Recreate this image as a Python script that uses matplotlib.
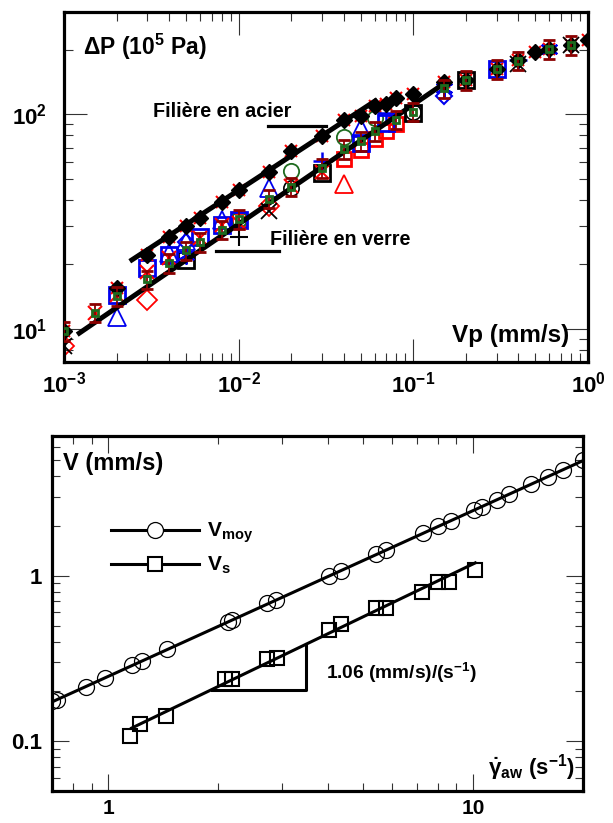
import numpy as np
import matplotlib
matplotlib.use('Agg')
import matplotlib.pyplot as plt
from matplotlib.lines import Line2D
from matplotlib.ticker import NullFormatter

plt.rcParams.update({
    'font.family': 'Liberation Sans',
    'font.weight': 'bold',
    'mathtext.fontset': 'custom',
    'mathtext.rm': 'Liberation Sans:bold',
    'mathtext.it': 'Liberation Sans:bold',
    'mathtext.bf': 'Liberation Sans:bold',
    'mathtext.sf': 'Liberation Sans:bold',
})

# ---------------- pressure drop vs piston speed ----------------
# steel die
steel_vp = [0.001, 0.002, 0.003, 0.004, 0.005, 0.006, 0.008, 0.01, 0.015, 0.02, 0.03,
            0.04, 0.05, 0.06, 0.07, 0.08, 0.1, 0.15, 0.2, 0.3, 0.4, 0.5, 0.6, 0.8, 1.0]
steel_dp = [9.8, 15.5, 22, 26.7, 30, 33, 39, 44.5, 54, 67.5, 79,
            94, 98, 109, 112, 119, 124, 142, 145, 163, 180, 196, 202, 211, 222]

# averaged runs with error bars
mean_vp = [0.001, 0.0015, 0.002, 0.003, 0.004, 0.005, 0.006, 0.008, 0.01, 0.015, 0.02, 0.03,
           0.04, 0.05, 0.06, 0.08, 0.1, 0.15, 0.2, 0.3, 0.4, 0.6, 0.8]
mean_dp = [9.8, 11.9, 14.2, 17.0, 20.2, 23.2, 25.3, 29, 32.6, 40.5, 46, 56,
           69, 75, 83.5, 94.6, 103, 132, 145, 163, 178, 202, 211]
mean_err = 0.1

# glass die, individual runs
redx_vp = [0.0015, 0.002, 0.003, 0.004, 0.006, 0.008, 0.01, 0.02, 0.03]
redx_dp = [11.9, 14.4, 18.4, 21.5, 26.5, 30.5, 31, 46.4, 54]
bsq_vp = [0.002, 0.003, 0.004, 0.006, 0.008, 0.01, 0.05, 0.07, 0.3]
bsq_dp = [14.4, 19.2, 22, 26.7, 30.5, 32, 73.5, 91, 163]
btri_vp = [0.002, 0.004, 0.005, 0.008, 0.015, 0.05]
btri_dp = [11.4, 22.5, 25.8, 32, 45.4, 86]
rtri_vp = [0.04]
rtri_dp = [47.4]
rdia_vp = [0.001, 0.003, 0.015]
rdia_dp = [8.3, 13.6, 37.5]
rsq_vp = [0.01, 0.04, 0.05, 0.06, 0.07, 0.08]
rsq_dp = [32, 62, 68.5, 77, 84, 90]
gcir_vp = [0.01, 0.02, 0.04, 0.06]
gcir_dp = [32.5, 54.5, 78, 96]
ksq_vp = [0.005, 0.03, 0.1, 0.2]
ksq_dp = [21, 53.5, 101, 145]
kcir_vp = [0.02, 0.1]
kcir_dp = [45.5, 103]
kplus_vp = [0.01]
kplus_dp = [26.7]
kx_vp = [0.001, 0.015, 0.4, 0.8]
kx_dp = [8.3, 35.5, 172, 211]
bplus_vp = [0.03, 0.07, 0.4]
bplus_dp = [60.7, 101, 180]
bast_vp = [0.005, 0.15, 0.6]
bast_dp = [22, 133, 202]
bdia_vp = [0.005, 0.15]
bdia_dp = [25.3, 122]

# power-law fits
steel_fit_vp = [0.00238, 0.0622]
steel_fit_dp = [20.65, 117.3]
glass_fit_vp = [0.00119, 0.147]
glass_fit_dp = [9.4, 137.7]
steel_tag_vp = [0.01466, 0.0318]
steel_tag_dp = [88, 88]
glass_tag_vp = [0.0074, 0.0171]
glass_tag_dp = [23, 23]

# ---------------- velocities vs apparent wall shear rate ----------------
vmoy_g = [0.702, 0.724, 0.865, 0.981, 1.157, 1.232, 1.443, 2.123, 2.177, 2.72, 2.876,
          4.02, 4.34, 5.41, 5.77, 7.29, 8.01, 8.70, 10.07, 10.59, 11.64, 12.56, 14.43,
          16.07, 17.66, 20.0]
vmoy = [0.1747, 0.177, 0.2125, 0.241, 0.289, 0.305, 0.361, 0.526, 0.541, 0.686, 0.716,
        1.0, 1.072, 1.36, 1.438, 1.823, 2.01, 2.155, 2.51, 2.62, 2.89, 3.14, 3.61,
        3.98, 4.39, 4.98]
vs_g = [1.149, 1.224, 1.434, 2.083, 2.177, 2.72, 2.89, 4.02, 4.34, 5.41, 5.77, 7.24,
        8.01, 8.6, 10.13]
vs = [0.107, 0.127, 0.142, 0.238, 0.238, 0.314, 0.319, 0.471, 0.512, 0.64, 0.64, 0.80,
      0.92, 0.92, 1.087]

vmoy_fit_g = [0.697, 20.05]
vmoy_fit = [0.172, 4.98]
slope = 1.06
vs_fit_coef = 0.1028
vs_fit_g = [1.157, 10.13]
tri_g = [1.918, 3.48]


def style_axes(ax, major_len, minor_len):
    for s in ax.spines.values():
        s.set_linewidth(2.3)
    ax.tick_params(which='both', direction='in', top=True, right=True,
                   width=0.8, color='#333333', labelsize=16)
    ax.tick_params(which='major', length=major_len)
    ax.tick_params(which='minor', length=minor_len)
    ax.xaxis.set_minor_formatter(NullFormatter())
    ax.yaxis.set_minor_formatter(NullFormatter())


fig = plt.figure(figsize=(6.13, 8.23), dpi=100)

# ---------- top panel ----------
ax = fig.add_axes([0.1044, 0.5601, 0.8548, 0.4253])
ax.set_xscale('log')
ax.set_yscale('log')
ax.set_xlim(1e-3, 1.0)
ax.set_ylim(7, 300)

red, blue, green, maroon = '#ff0000', '#0000ee', '#1e6b1e', '#8b0000'
open_kw = dict(ls='none', mfc='none')

ax.plot(rdia_vp, rdia_dp, marker='D', ms=10, mec=red, mew=1.3, **open_kw)
ax.plot(rtri_vp, rtri_dp, marker='^', ms=13, mec=red, mew=1.3, **open_kw)
ax.plot(rsq_vp, rsq_dp, marker='s', ms=10, mec=red, mew=2, **open_kw)
ax.plot(gcir_vp, gcir_dp, marker='o', ms=11, mec=green, mew=1.3, **open_kw)
ax.plot(kcir_vp, kcir_dp, marker='o', ms=11, mec='k', mew=1.2, **open_kw)
ax.plot(btri_vp, btri_dp, marker='^', ms=13, mec=blue, mew=1.3, **open_kw)
ax.plot(bdia_vp, bdia_dp, marker='D', ms=8, mec=blue, mew=1.5, **open_kw)
ax.plot(ksq_vp, ksq_dp, marker='s', ms=11, mec='k', mew=2, **open_kw)
ax.plot(bsq_vp, bsq_dp, marker='s', ms=11, mec=blue, mew=2, **open_kw)
ax.plot(steel_vp, steel_dp, ls='none', marker='x', ms=9, mec=red, mew=1.5)
ax.plot(redx_vp, redx_dp, ls='none', marker='x', ms=10, mec=red, mew=1.5)
ax.plot(kx_vp, kx_dp, ls='none', marker='x', ms=11, mec='k', mew=1.3)
ax.plot(kplus_vp, kplus_dp, ls='none', marker='+', ms=13, mec='k', mew=1.5)
ax.plot(bplus_vp, bplus_dp, ls='none', marker='+', ms=13, mec=blue, mew=1.8)
ax.plot(bast_vp, bast_dp, ls='none', marker=(6, 2, 0), ms=13, mec=blue, mew=1.5)
ax.plot(steel_vp, steel_dp, ls='none', marker='D', ms=8.5, mfc='k', mec='k')

ax.plot(steel_fit_vp, steel_fit_dp, color='k', lw=3.6, solid_capstyle='butt', zorder=3)
ax.plot(glass_fit_vp, glass_fit_dp, color='k', lw=3.6, solid_capstyle='butt', zorder=3)

mean_dp_arr = np.array(mean_dp)
ax.errorbar(mean_vp, mean_dp, yerr=mean_err * mean_dp_arr, fmt='s', ms=5, mfc='none',
            mec=green, mew=2, ecolor=maroon, elinewidth=1.3, capsize=4, capthick=2,
            zorder=4)

ax.plot(steel_tag_vp, steel_tag_dp, color='k', lw=2.3)
ax.plot(glass_tag_vp, glass_tag_dp, color='k', lw=2.3)

ax.text(0.036, 0.9, r'ΔP (10$^{5}$ Pa)', transform=ax.transAxes, fontsize=16.5,
        ha='left', va='center')
ax.text(0.170, 0.717, 'Filière en acier', transform=ax.transAxes, fontsize=14.2,
        ha='left', va='center')
ax.text(0.393, 0.349, 'Filière en verre', transform=ax.transAxes, fontsize=14.2,
        ha='left', va='center')
ax.text(0.964, 0.077, 'Vp (mm/s)', transform=ax.transAxes, fontsize=17.5,
        ha='right', va='center')

style_axes(ax, 16.5, 6.5)
ax.set_xticks([1e-3, 1e-2, 1e-1, 1.0],
              [r'$10^{-3}$', r'$10^{-2}$', r'$10^{-1}$', r'$10^{0}$'])
ax.set_yticks([10, 100], [r'$10^{1}$', r'$10^{2}$'])
ax.tick_params(axis='x', which='major', pad=7)
ax.tick_params(axis='y', which='major', pad=12)

# ---------- bottom panel ----------
bx = fig.add_axes([0.0848, 0.0389, 0.8662, 0.4313])
bx.set_xscale('log')
bx.set_yscale('log')
bx.set_xlim(0.7, 20)
bx.set_ylim(0.05, 7)

bx.plot(vmoy_fit_g, vmoy_fit, color='k', lw=2.2)
g = np.array(vs_fit_g)
bx.plot(g, vs_fit_coef * g ** slope, color='k', lw=2.2)
t = np.array(tri_g)
tv = vs_fit_coef * t ** slope
bx.plot([t[0], t[1], t[1]], [tv[0], tv[0], tv[1]], color='k', lw=2.2)

bx.plot(vmoy_g, vmoy, ls='none', marker='o', ms=11.5, mfc='none', mec='k', mew=0.9)
bx.plot(vs_g, vs, ls='none', marker='s', ms=10, mfc='none', mec='k', mew=1.5)

h1 = Line2D([], [], color='k', lw=2.2, marker='o', ms=11.5, mfc='white', mec='k', mew=0.9)
h2 = Line2D([], [], color='k', lw=2.2, marker='s', ms=10, mfc='white', mec='k', mew=1.5)
bx.legend([h1, h2], [r'V$_{\mathrm{moy}}$', r'V$_{\mathrm{s}}$'], loc='upper left',
          bbox_to_anchor=(0.092, 0.79), frameon=False, fontsize=15, numpoints=1,
          handlelength=4.2, handletextpad=0.4, labelspacing=0.45, borderpad=0)

bx.text(0.021, 0.924, 'V (mm/s)', transform=bx.transAxes, fontsize=17,
        ha='left', va='center')
bx.text(0.516, 0.332, r'1.06 (mm/s)/(s$^{-1}$)', transform=bx.transAxes, fontsize=13.8,
        ha='left', va='center')
bx.text(0.985, 0.065, r'$\dot{\gamma}_{\mathrm{aw}}$ (s$^{-1}$)', transform=bx.transAxes,
        fontsize=16, ha='right', va='center')

style_axes(bx, 12, 5.5)
bx.set_xticks([1, 10], ['1', '10'])
bx.set_yticks([0.1, 1], ['0.1', '1'])
bx.tick_params(axis='x', which='major', pad=6, labelsize=15)
bx.tick_params(axis='y', which='major', pad=7)

fig.savefig('out.png', dpi=100)
